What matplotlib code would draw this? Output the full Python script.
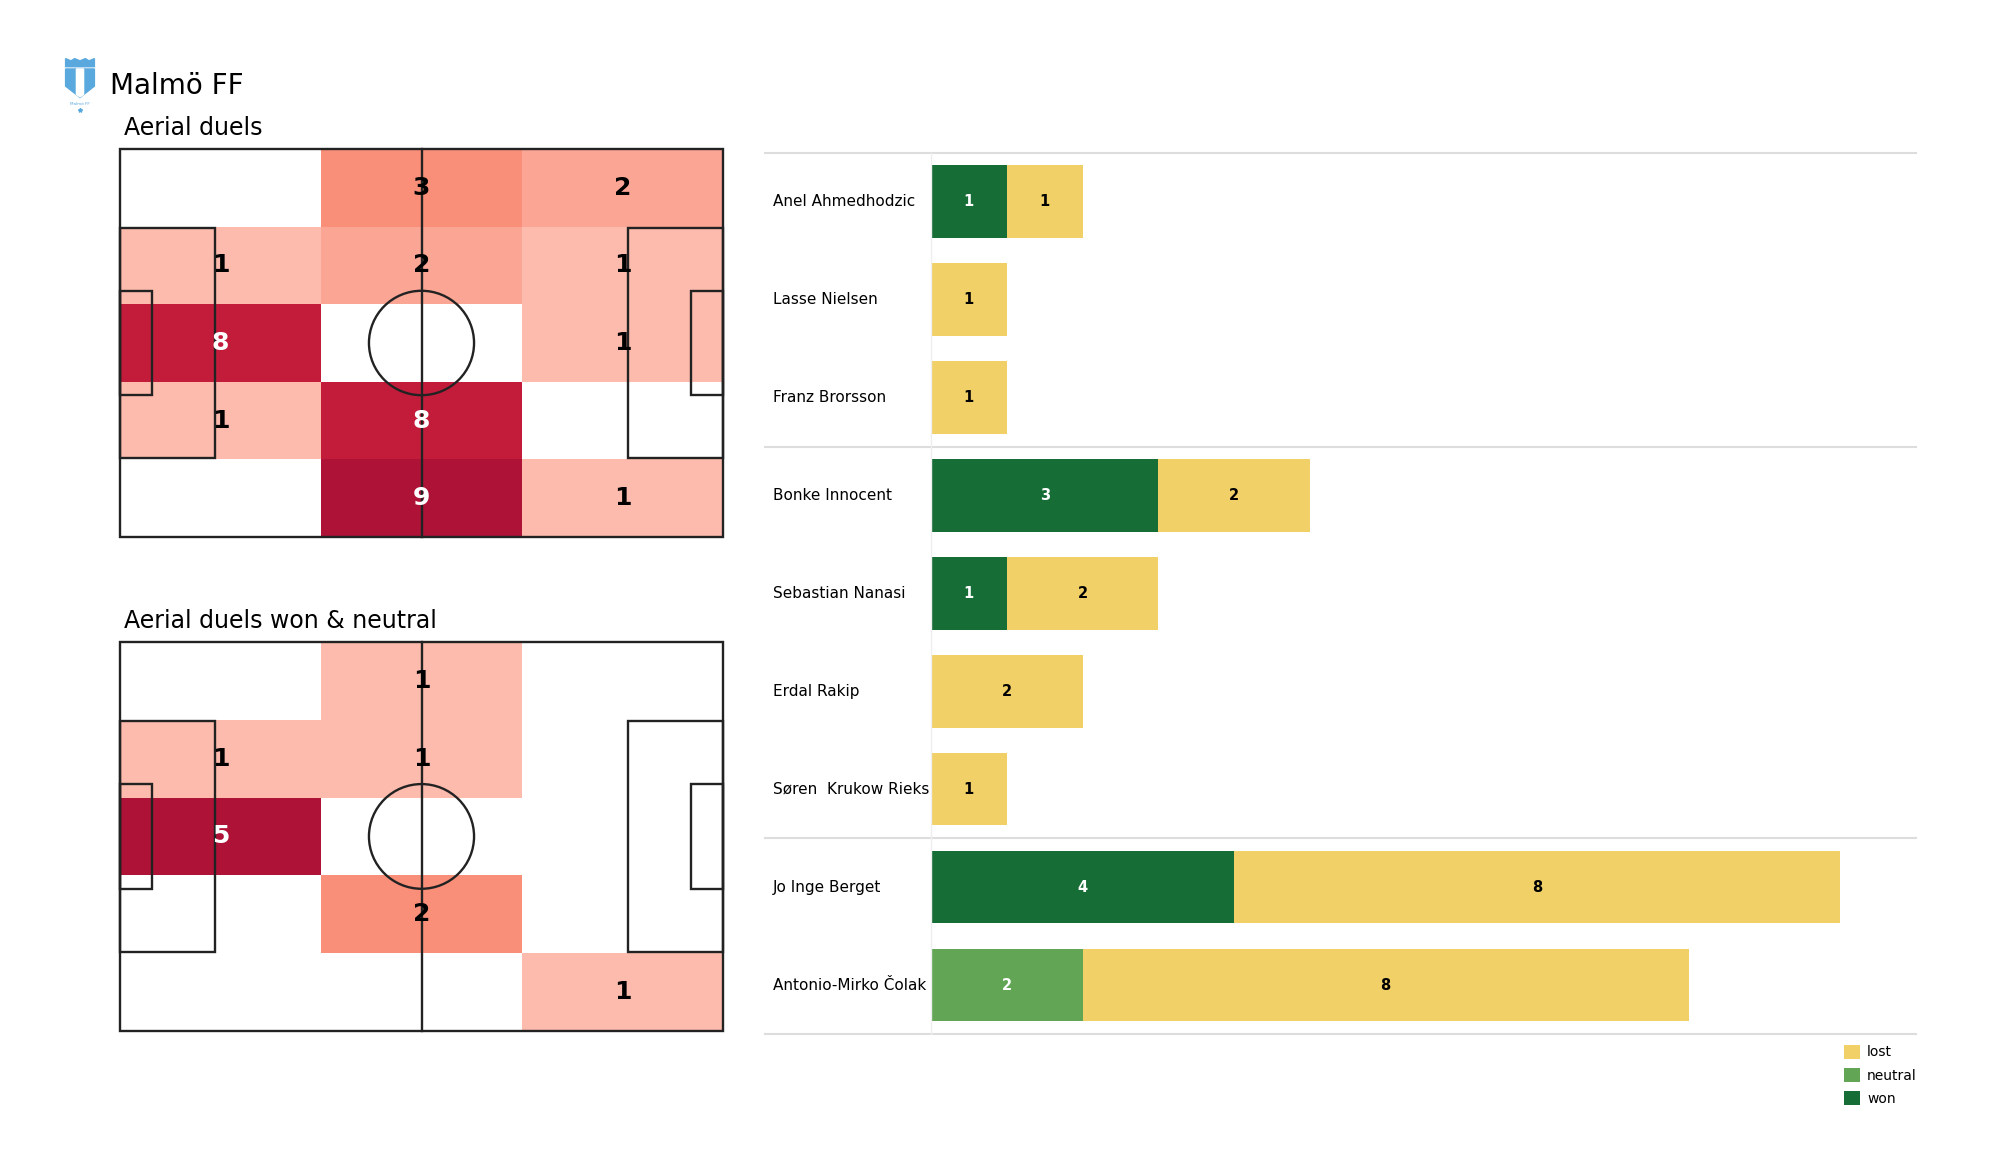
import numpy as np
import matplotlib
matplotlib.use("Agg")
import matplotlib.pyplot as plt
from matplotlib.colors import LinearSegmentedColormap
from matplotlib.patches import Rectangle, Circle, Polygon
import matplotlib.transforms as mtransforms

# heatmap counts, rows listed top to bottom, 3 zones left to right
duels_all = [[0, 3, 2],
             [1, 2, 1],
             [8, 0, 1],
             [1, 8, 0],
             [0, 9, 1]]
duels_won_neutral = [[0, 1, 0],
                     [1, 1, 0],
                     [5, 0, 0],
                     [0, 2, 0],
                     [0, 0, 1]]

players = ["Anel Ahmedhodzic", "Lasse Nielsen", "Franz Brorsson",
           "Bonke Innocent", "Sebastian Nanasi", "Erdal Rakip",
           "Søren  Krukow Rieks", "Jo Inge Berget", "Antonio-Mirko Čolak"]
won = [1, 0, 0, 3, 1, 0, 0, 4, 0]
neutral = [0, 0, 0, 0, 0, 0, 0, 0, 2]
lost = [1, 1, 1, 2, 2, 2, 1, 8, 8]
group_breaks = [2.5, 6.5]

C_WON = "#166d36"
C_NEUTRAL = "#62a555"
C_LOST = "#f1d067"

heat_cmap = LinearSegmentedColormap.from_list(
    "aerial", [(0.0, "#fdbbae"), (0.125, "#fba595"), (0.25, "#f98f78"),
               (0.55, "#e5504f"), (0.875, "#c41c3b"), (1.0, "#ae1237")])

L, W = 105.0, 68.0
fig = plt.figure(figsize=(20, 11.75), dpi=100)


def draw_pitch(ax):
    lc, lw = "#222222", 1.7
    kw = dict(fill=False, ec=lc, lw=lw, zorder=3, clip_on=False)
    ax.add_patch(Rectangle((0, 0), L, W, **kw))
    ax.plot([L / 2, L / 2], [0, W], color=lc, lw=lw, zorder=3, clip_on=False)
    ax.add_patch(Circle((L / 2, W / 2), 9.15, **kw))
    for x0, d in [(0, 1), (L, -1)]:
        ax.add_patch(Rectangle((x0, W / 2 - 20.16), d * 16.5, 40.32, **kw))
        ax.add_patch(Rectangle((x0, W / 2 - 9.16), d * 5.5, 18.32, **kw))
    ax.set_xlim(0, L)
    ax.set_ylim(0, W)
    ax.axis("off")


def draw_heat(ax, counts):
    arr = np.array(counts, dtype=float)[::-1]  # bottom row first
    xs = np.linspace(0, L, arr.shape[1] + 1)
    ys = np.linspace(0, W, arr.shape[0] + 1)
    vmax = arr.max()
    masked = np.ma.masked_where(arr == 0, arr)
    ax.pcolormesh(xs, ys, masked, cmap=heat_cmap, vmin=1, vmax=vmax, zorder=1)
    for i in range(arr.shape[0]):
        for j in range(arr.shape[1]):
            v = arr[i, j]
            if v == 0:
                continue
            col = "white" if (v - 1) / (vmax - 1) > 0.6 else "black"
            ax.text((xs[j] + xs[j + 1]) / 2, (ys[i] + ys[i + 1]) / 2, str(int(v)),
                    ha="center", va="center", fontsize=18, fontweight="bold",
                    color=col, zorder=4)
    draw_pitch(ax)


ax1 = fig.add_axes([0.0600, 0.5430, 0.3015, 0.3302])
draw_heat(ax1, duels_all)
ax2 = fig.add_axes([0.0600, 0.1226, 0.3015, 0.3311])
draw_heat(ax2, duels_won_neutral)

# titles
fig.text(0.055, 1 - 86 / 1175, "Malmö FF", fontsize=20, va="center", ha="left")
fig.text(0.062, 1 - 128 / 1175, "Aerial duels", fontsize=17, va="center", ha="left")
fig.text(0.062, 1 - 621 / 1175, "Aerial duels won & neutral", fontsize=17, va="center", ha="left")

# simple crest
axl = fig.add_axes([0.031, 1 - 112 / 1175, 0.018, 55 / 1175])
axl.set_xlim(0, 10)
axl.set_ylim(0, 17)
axl.axis("off")
blue = "#5aa9de"
axl.add_patch(Polygon([[1, 14], [1, 16.5], [2.5, 15.8], [3.5, 16.5], [5, 15.8], [6.5, 16.5],
                       [7.5, 15.8], [9, 16.5], [9, 14]], closed=True, color=blue))
axl.add_patch(Polygon([[1, 13.3], [9, 13.3], [9, 8], [5, 4.5], [1, 8]], closed=True, color=blue))
axl.add_patch(Polygon([[4, 13.3], [6, 13.3], [6, 5.4], [5, 4.7], [4, 5.4]], closed=True, color="white"))
axl.text(5, 2.6, "Malmö FF", fontsize=3, color=blue, ha="center", va="center")
axl.plot([5], [0.6], marker="*", ms=3, color=blue)

# stacked bars
axb = fig.add_axes([0.4655, 0.1200, 0.4925, 0.7500])
ypos = np.arange(len(players))
won_a = np.array(won)
neu_a = np.array(neutral)
lost_a = np.array(lost)
h = 0.74
axb.barh(ypos, won_a, height=h, color=C_WON, label="won")
axb.barh(ypos, neu_a, left=won_a, height=h, color=C_NEUTRAL, label="neutral")
axb.barh(ypos, lost_a, left=won_a + neu_a, height=h, color=C_LOST, label="lost")
for i in range(len(players)):
    start = 0
    for v, col in [(won[i], "white"), (neutral[i], "white"), (lost[i], "black")]:
        if v > 0:
            axb.text(start + v / 2, i, str(v), ha="center", va="center",
                     fontsize=10.5, fontweight="bold", color=col)
        start += v
axb.set_xlim(0, 13)
axb.set_ylim(len(players) - 0.5, -0.5)
axb.set_xticks([])
axb.set_yticks([])
for s in ["top", "right", "bottom"]:
    axb.spines[s].set_visible(False)
axb.spines["left"].set_color("#eeeeee")
axb.spines["left"].set_linewidth(1.0)

trans = mtransforms.blended_transform_factory(axb.transAxes, axb.transData)
for yb in [-0.5] + group_breaks + [len(players) - 0.5]:
    axb.plot([-0.1685, 1.0], [yb, yb], color="#dddddd", lw=1.5, transform=trans, clip_on=False)
for i, name in enumerate(players):
    axb.text(-0.1604, i, name, ha="left", va="center", fontsize=11, transform=trans)

handles, labels = axb.get_legend_handles_labels()
fig.legend(handles[::-1], labels[::-1], loc="upper left",
           bbox_to_anchor=(1838 / 2000, 1 - 1039 / 1175), frameon=False,
           fontsize=10, handlelength=1.2, handleheight=1.2, handletextpad=0.5,
           labelspacing=0.6, borderaxespad=0)

fig.savefig("out.png", dpi=100, facecolor="white")
